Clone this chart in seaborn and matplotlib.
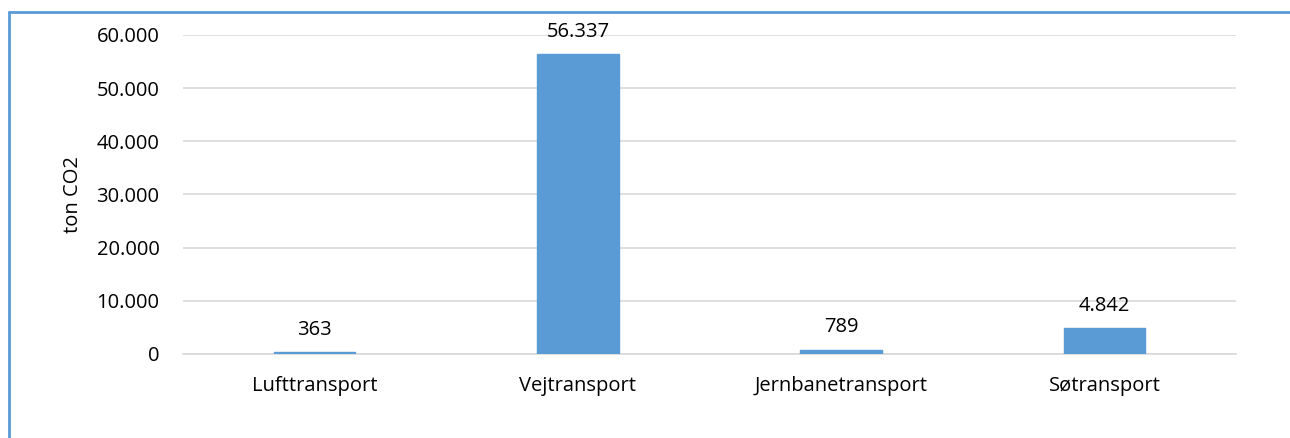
import matplotlib
matplotlib.use("Agg")
import matplotlib.pyplot as plt
import seaborn as sns
import pandas as pd
from matplotlib.lines import Line2D
from matplotlib.ticker import FuncFormatter

categories = ["Lufttransport", "Vejtransport", "Jernbanetransport", "Søtransport"]
values = [363, 56337, 789, 4842]
yticks = [0, 10000, 20000, 30000, 40000, 50000, 60000]

def dk(v):
    return f"{int(round(v)):,}".replace(",", ".")

sns.set_theme(style="white")
plt.rcParams['font.family'] = ['Open Sans', 'DejaVu Sans']
plt.rcParams['text.color'] = '#000000'

df = pd.DataFrame({"cat": categories, "val": values})

fig = plt.figure(figsize=(12.9, 4.38), dpi=100)
ax = fig.add_axes([0.1419, 0.1918, 0.8163, 0.7284])

sns.barplot(data=df, x="cat", y="val", color="#5b9bd5", width=0.31,
            saturation=1, ax=ax, zorder=3, edgecolor="#5b9bd5")

fs = 14.5
ax.set_ylim(0, 60000)
ax.set_xlim(-0.5, 3.5)
ax.set_yticks(yticks)
ax.yaxis.set_major_formatter(FuncFormatter(lambda v, p: dk(v)))
ax.grid(axis="y", color="#d9d9d9", linewidth=1.2, zorder=0)
ax.grid(axis="x", visible=False)
for s in ["top", "right", "left"]:
    ax.spines[s].set_visible(False)
ax.spines["bottom"].set_color("#d9d9d9")
ax.spines["bottom"].set_linewidth(1.2)
ax.tick_params(axis="y", length=0, pad=17, labelsize=fs, labelcolor="#000000")
ax.tick_params(axis="x", length=0, pad=16, labelsize=fs, labelcolor="#000000")
ax.set_xlabel("")
ax.set_ylabel("ton CO2", fontsize=fs, labelpad=10, color="#000000")

for c in ax.containers:
    ax.bar_label(c, labels=[dk(v) for v in values], padding=9, fontsize=fs, color="#000000")

fig.add_artist(Line2D([9/1290, 9/1290], [0, 1 - 12/438], transform=fig.transFigure,
                      color="#5b9bd5", linewidth=2))
fig.add_artist(Line2D([9/1290, 1], [1 - 12/438, 1 - 12/438], transform=fig.transFigure,
                      color="#5b9bd5", linewidth=2))

fig.savefig("out.png", dpi=100)
